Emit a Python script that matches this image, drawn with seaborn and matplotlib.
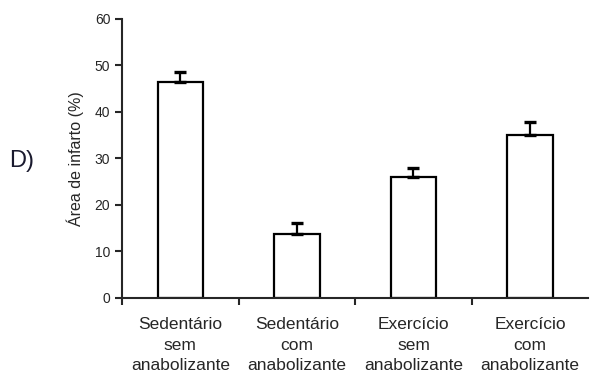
import matplotlib.pyplot as plt
import seaborn as sns
import pandas as pd

sns.set_theme(style="ticks")
plt.rcParams['font.family'] = ['Liberation Sans', 'DejaVu Sans']

# dados
grupos = ["Sedentário\nsem\nanabolizante", "Sedentário\ncom\nanabolizante",
          "Exercício\nsem\nanabolizante", "Exercício\ncom\nanabolizante"]
area_infarto = [46.5, 13.8, 26.0, 35.0]
erro = [2.1, 2.3, 2.0, 2.8]
y_ticks = [0, 10, 20, 30, 40, 50, 60]

df = pd.DataFrame({"grupo": grupos, "area": area_infarto})

fig = plt.figure(figsize=(5.9, 3.92), dpi=100)
ax = fig.add_axes([0.207, 0.24, 0.79, 0.712])

sns.barplot(data=df, x="grupo", y="area", color="white", edgecolor="black",
            linewidth=1.6, width=0.39, ax=ax)
ax.errorbar(range(len(grupos)), area_infarto,
            yerr=[[0] * len(erro), erro], fmt="none", ecolor="black",
            elinewidth=1.6, capsize=4, capthick=2.4, zorder=1)

ax.set_xlim(-0.5, 3.5)
ax.set_ylim(0, 60)
ax.set_yticks(y_ticks)
ax.set_xticks([-0.5, 0.5, 1.5, 2.5], minor=True)
ax.tick_params(axis="x", which="major", length=0, labelsize=12.5, pad=14)
ax.tick_params(axis="x", which="minor", length=5, width=1.5, direction="out")
ax.tick_params(axis="y", length=5, width=1.5, labelsize=10)
for lbl in ax.get_xticklabels():
    lbl.set_ha("center")
    lbl.set_multialignment("center")
    lbl.set_linespacing(1.45)
ax.set_xlabel("")
ax.set_ylabel("Área de infarto (%)", fontsize=11.5, labelpad=8)
sns.despine(ax=ax)
for s in ["left", "bottom"]:
    ax.spines[s].set_linewidth(1.5)

fig.text(0.015, 0.59, "D)", fontsize=17, color="#1a1a2e", va="center")

plt.savefig("out.png", dpi=100)
